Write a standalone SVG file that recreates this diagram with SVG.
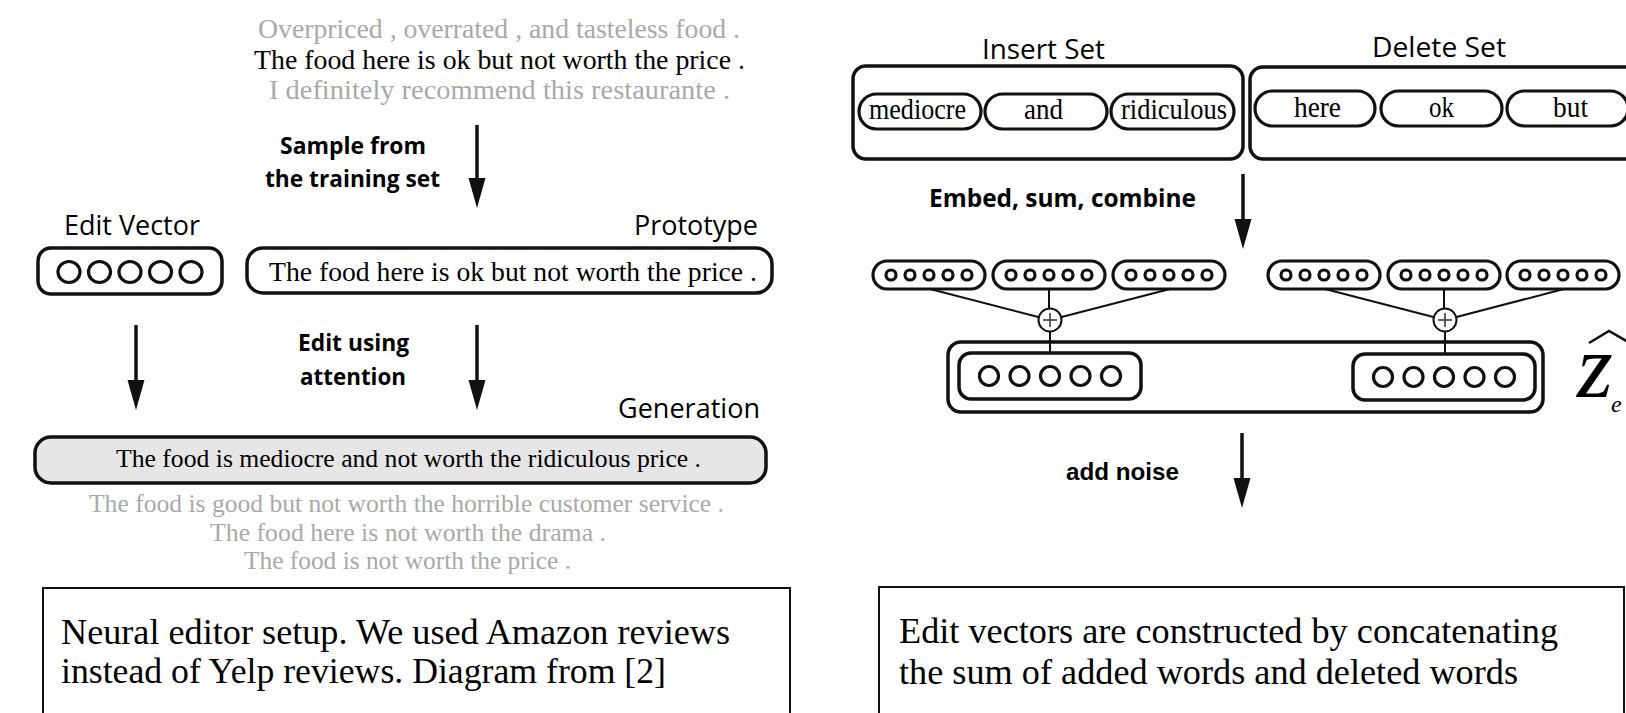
<svg xmlns="http://www.w3.org/2000/svg" width="1626" height="713" viewBox="0 0 1626 713">
<style>
.serif{font-family:"Liberation Serif","Times New Roman",serif;}
.sans{font-family:"Open Sans","Liberation Sans",sans-serif;}
.bold{font-family:"Open Sans","Liberation Sans",sans-serif;font-weight:bold;}
.gray{fill:#a9a9a9;}
.box{fill:none;stroke:#111;stroke-width:3.5;}
.pill{fill:#fff;stroke:#111;stroke-width:3.2;}
.dot{fill:none;stroke:#111;stroke-width:3.2;}
.conn{stroke:#111;stroke-width:2;fill:none;}
.arrow{stroke:#111;stroke-width:3.5;fill:none;marker-end:url(#ah);}
.cap{fill:none;stroke:#111;stroke-width:2;}
</style>
<defs>
<marker id="ah" markerUnits="userSpaceOnUse" markerWidth="32" markerHeight="18" refX="10" refY="8.5" orient="auto">
<path d="M0,0 L30,8.5 L0,17 z" fill="#111"/>
</marker>
<g id="vec5s">
<circle class="dot" cx="18" cy="14" r="5"/>
<circle class="dot" cx="37" cy="14" r="5"/>
<circle class="dot" cx="56" cy="14" r="5"/>
<circle class="dot" cx="75" cy="14" r="5"/>
<circle class="dot" cx="94" cy="14" r="5"/>
</g>
</defs>
<rect width="1626" height="713" fill="#fff"/>

<!-- LEFT PANEL -->
<g id="training-samples">
<text class="serif gray" x="258" y="38" font-size="27" textLength="482" lengthAdjust="spacingAndGlyphs">Overpriced , overrated , and tasteless food .</text>
<text class="serif" x="254" y="69" font-size="27" textLength="491" lengthAdjust="spacingAndGlyphs">The food here is ok but not worth the price .</text>
<text class="serif gray" x="269" y="99" font-size="27" textLength="461" lengthAdjust="spacingAndGlyphs">I definitely recommend this restaurante .</text>
</g>
<g id="label-sample">
<text class="bold" x="280" y="154" font-size="24" textLength="146" lengthAdjust="spacingAndGlyphs">Sample from</text>
<text class="bold" x="265" y="187" font-size="24" textLength="175" lengthAdjust="spacingAndGlyphs">the training set</text>
</g>
<g id="edit-vector">
<text class="sans" x="64" y="235" font-size="27" textLength="136" lengthAdjust="spacingAndGlyphs">Edit Vector</text>
<rect class="box" x="38" y="248" width="184" height="46" rx="13"/>
<ellipse class="dot" cx="69" cy="272" rx="11" ry="10.5" stroke-width="3.4"/>
<ellipse class="dot" cx="99.5" cy="272" rx="11" ry="10.5" stroke-width="3.4"/>
<ellipse class="dot" cx="130" cy="272" rx="11" ry="10.5" stroke-width="3.4"/>
<ellipse class="dot" cx="160.5" cy="272" rx="11" ry="10.5" stroke-width="3.4"/>
<ellipse class="dot" cx="191" cy="272" rx="11" ry="10.5" stroke-width="3.4"/>
</g>
<g id="prototype">
<text class="sans" x="634" y="235" font-size="27" textLength="124" lengthAdjust="spacingAndGlyphs">Prototype</text>
<rect class="box" x="247" y="248" width="525" height="45" rx="16"/>
<text class="serif" x="269" y="281" font-size="27" textLength="488" lengthAdjust="spacingAndGlyphs">The food here is ok but not worth the price .</text>
</g>
<g id="label-edit">
<text class="bold" x="298" y="351" font-size="24" textLength="111" lengthAdjust="spacingAndGlyphs">Edit using</text>
<text class="bold" x="300" y="385" font-size="24" textLength="106" lengthAdjust="spacingAndGlyphs">attention</text>
</g>
<g id="generation">
<text class="sans" x="618" y="418" font-size="27" textLength="142" lengthAdjust="spacingAndGlyphs">Generation</text>
<rect x="35" y="437" width="731" height="46" rx="16" fill="#e6e6e6" stroke="#111" stroke-width="3.5"/>
<text class="serif" x="116" y="467" font-size="26" textLength="585" lengthAdjust="spacingAndGlyphs">The food is mediocre and not worth the ridiculous price .</text>
</g>
<g id="other-generations">
<text class="serif gray" x="89" y="512" font-size="25" textLength="635" lengthAdjust="spacingAndGlyphs">The food is good but not worth the horrible customer service .</text>
<text class="serif gray" x="210" y="541" font-size="25" textLength="396" lengthAdjust="spacingAndGlyphs">The food here is not worth the drama .</text>
<text class="serif gray" x="244" y="569" font-size="25" textLength="327" lengthAdjust="spacingAndGlyphs">The food is not worth the price .</text>
</g>
<g id="caption-left">
<rect class="cap" x="43" y="588" width="747" height="140"/>
<text class="serif" x="61" y="644" font-size="35" textLength="669" lengthAdjust="spacingAndGlyphs">Neural editor setup. We used Amazon reviews</text>
<text class="serif" x="61" y="683" font-size="35" textLength="605" lengthAdjust="spacingAndGlyphs">instead of Yelp reviews. Diagram from [2]</text>
</g>

<!-- RIGHT PANEL -->
<g id="insert-set">
<text class="sans" x="982" y="59" font-size="28" textLength="123" lengthAdjust="spacingAndGlyphs">Insert Set</text>
<rect class="box" x="853" y="66" width="390" height="93" rx="13"/>
<rect class="pill" x="859" y="94" width="122" height="35" rx="17.5"/>
<rect class="pill" x="985" y="94" width="122" height="35" rx="17.5"/>
<rect class="pill" x="1111" y="94" width="123" height="35" rx="17.5"/>
<text class="serif" x="869" y="119" font-size="30" textLength="97" lengthAdjust="spacingAndGlyphs">mediocre</text>
<text class="serif" x="1024" y="119" font-size="30" textLength="39" lengthAdjust="spacingAndGlyphs">and</text>
<text class="serif" x="1121" y="119" font-size="30" textLength="106" lengthAdjust="spacingAndGlyphs">ridiculous</text>
</g>
<g id="delete-set">
<text class="sans" x="1372" y="57" font-size="28" textLength="134" lengthAdjust="spacingAndGlyphs">Delete Set</text>
<rect class="box" x="1250" y="67" width="400" height="92" rx="13"/>
<rect class="pill" x="1255" y="91" width="120" height="35" rx="17.5"/>
<rect class="pill" x="1381" y="91" width="121" height="35" rx="17.5"/>
<rect class="pill" x="1507" y="91" width="121" height="35" rx="17.5"/>
<text class="serif" x="1294" y="117" font-size="30" textLength="47" lengthAdjust="spacingAndGlyphs">here</text>
<text class="serif" x="1429" y="117" font-size="30" textLength="25" lengthAdjust="spacingAndGlyphs">ok</text>
<text class="serif" x="1553" y="117" font-size="30" textLength="35" lengthAdjust="spacingAndGlyphs">but</text>
</g>
<g id="label-embed">
<text class="bold" x="929" y="207" font-size="25" textLength="267" lengthAdjust="spacingAndGlyphs">Embed, sum, combine</text>
</g>
<g id="insert-embeddings">
<rect class="pill" x="873" y="261" width="112" height="28" rx="14"/>
<use href="#vec5s" x="873" y="261"/>
<rect class="pill" x="993" y="261" width="112" height="28" rx="14"/>
<use href="#vec5s" x="993" y="261"/>
<rect class="pill" x="1113" y="261" width="112" height="28" rx="14"/>
<use href="#vec5s" x="1113" y="261"/>
</g>
<g id="delete-embeddings">
<rect class="pill" x="1268" y="261" width="112" height="28" rx="14"/>
<use href="#vec5s" x="1268" y="261"/>
<rect class="pill" x="1388" y="261" width="112" height="28" rx="14"/>
<use href="#vec5s" x="1388" y="261"/>
<rect class="pill" x="1507" y="261" width="112" height="28" rx="14"/>
<use href="#vec5s" x="1507" y="261"/>
</g>
<g id="edit-vector-concat">
<rect class="box" x="948" y="342" width="595" height="70" rx="13"/>
<rect class="box" x="959" y="353" width="182" height="46" rx="12"/>
<circle class="dot" cx="989" cy="376" r="9.5"/>
<circle class="dot" cx="1019.5" cy="376" r="9.5"/>
<circle class="dot" cx="1050" cy="376" r="9.5"/>
<circle class="dot" cx="1080.5" cy="376" r="9.5"/>
<circle class="dot" cx="1111" cy="376" r="9.5"/>
<rect class="box" x="1353" y="354" width="182" height="46" rx="12"/>
<circle class="dot" cx="1383" cy="377" r="9.5"/>
<circle class="dot" cx="1413.5" cy="377" r="9.5"/>
<circle class="dot" cx="1444" cy="377" r="9.5"/>
<circle class="dot" cx="1474.5" cy="377" r="9.5"/>
<circle class="dot" cx="1505" cy="377" r="9.5"/>
</g>
<g id="z-hat">
<path d="M1589,343 L1609,331 L1630,343" fill="none" stroke="#111" stroke-width="2.5" stroke-linejoin="miter"/>
<text class="serif" x="1577" y="397" font-size="92" font-style="italic">z</text>
<text class="serif" x="1611" y="412" font-size="24" font-style="italic">e</text>
</g>
<g id="caption-right">
<rect class="cap" x="879" y="587" width="745" height="140"/>
<text class="serif" x="899" y="643" font-size="35" textLength="659" lengthAdjust="spacingAndGlyphs">Edit vectors are constructed by concatenating</text>
<text class="serif" x="899" y="684" font-size="35" textLength="619" lengthAdjust="spacingAndGlyphs">the sum of added words and deleted words</text>
</g>
<g id="label-noise">
<text x="1066" y="480" font-size="24" font-family="Liberation Sans, Arial, sans-serif" font-weight="bold" textLength="113" lengthAdjust="spacingAndGlyphs">add noise</text>
</g>

<!-- CONNECTORS -->
<g id="connectors">
<line class="arrow" x1="477" y1="125" x2="477" y2="188"/>
<line class="arrow" x1="136" y1="325" x2="136" y2="390"/>
<line class="arrow" x1="477" y1="325" x2="477" y2="390"/>
<line class="arrow" x1="1243" y1="174" x2="1243" y2="229"/>
<line class="arrow" x1="1242" y1="433" x2="1242" y2="488"/>
<line class="conn" x1="930" y1="289" x2="1050" y2="320"/>
<line class="conn" x1="1170" y1="289" x2="1050" y2="320"/>
<line class="conn" x1="1049" y1="289" x2="1049" y2="320"/>
<line class="conn" x1="1050" y1="320" x2="1050" y2="353"/>
<line class="conn" x1="1325" y1="289" x2="1445" y2="320"/>
<line class="conn" x1="1564" y1="289" x2="1445" y2="320"/>
<line class="conn" x1="1444" y1="289" x2="1444" y2="320"/>
<line class="conn" x1="1445" y1="320" x2="1445" y2="354"/>
<circle cx="1050" cy="320" r="11.5" fill="#fff" stroke="#111" stroke-width="2"/>
<path d="M1043,320 H1057 M1050,313 V327" stroke="#333" stroke-width="1.5"/>
<circle cx="1445" cy="320" r="11.5" fill="#fff" stroke="#111" stroke-width="2"/>
<path d="M1438,320 H1452 M1445,313 V327" stroke="#333" stroke-width="1.5"/>
</g>
</svg>
